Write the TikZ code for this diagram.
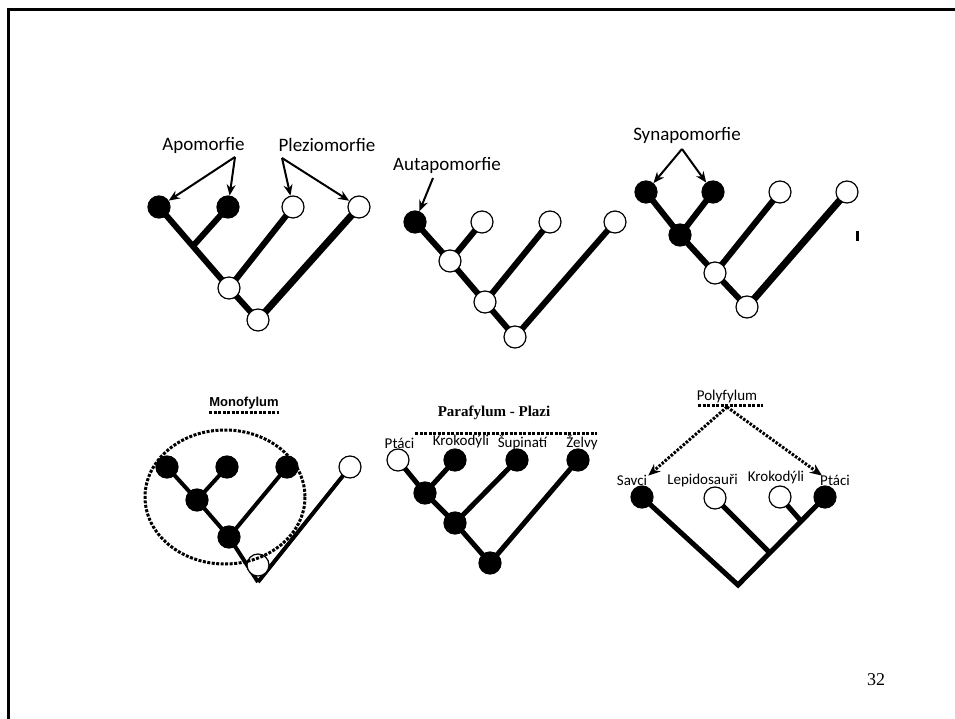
\documentclass[tikz,border=0pt]{standalone}
\usepackage{fontspec}
\setmainfont{Carlito}
\newfontfamily\serfont{Liberation Serif}
\newfontfamily\arfont{Liberation Sans}
\usetikzlibrary{arrows.meta,backgrounds}
\begin{document}
\begin{tikzpicture}[x=1pt,y=-1pt,
  fnode/.style={circle,draw,line width=1.2pt,fill=black,minimum size=22pt,inner sep=0pt},
  onode/.style={circle,draw,line width=1.2pt,fill=white,minimum size=22pt,inner sep=0pt},
  brA/.style={line width=6pt},
  brB/.style={line width=4pt},
  brC/.style={line width=5pt},
  pointer/.style={line width=2pt,-{Stealth[length=11pt,width=9pt]}},
  dotline/.style={line width=3pt,dash pattern=on 3pt off 1.5pt},
  dotarrow/.style={line width=3pt,dash pattern=on 2.5pt off 1.5pt,-{Stealth[length=12pt,width=10pt]}},
  bigl/.style={inner sep=0pt,font=\fontsize{19}{21}\selectfont},
  smalll/.style={inner sep=0pt,font=\fontsize{15}{17}\selectfont}]
\useasboundingbox (0,0) rectangle (955,719);
\draw[line width=3pt] (8,719) -- (8,9.5) -- (955,9.5);

% ---------- panel 1 ----------
\node[bigl] (tapo) at (203.5,145) {Apomorfie};
\node[bigl] (tple) at (327,145) {Pleziomorfie};
\coordinate (sapo) at (235,157);
\coordinate (sple) at (282,158);
\node[fnode] (a1) at (159,207) {};
\node[fnode] (a2) at (228,207) {};
\node[onode] (p1) at (293,207) {};
\node[onode] (p2) at (359,207) {};
\coordinate (ja) at (193,246);
\node[onode] (n1) at (229,288) {};
\node[onode] (n2) at (258,320) {};
\begin{pgfonlayer}{background}
\draw[brA] (a1.center) -- (n1.center);
\draw[brA] (a2.center) -- (ja);
\draw[brA] (p1.center) -- (n1.center);
\draw[brA] (n1.center) -- (n2.center);
\draw[line width=7pt] (p2.center) -- (n2.center);
\end{pgfonlayer}
\draw[pointer] (sapo) -- (a1);
\draw[pointer] (sapo) -- (a2);
\draw[pointer] (sple) -- (p1);
\draw[pointer] (sple) -- (p2);

% ---------- panel 2 ----------
\node[bigl] (taut) at (447,165) {Autapomorfie};
\coordinate (saut) at (433,178);
\node[fnode] (f1) at (415,222) {};
\node[onode] (o1) at (482,222) {};
\node[onode] (o2) at (550,222) {};
\node[onode] (o3) at (615,222) {};
\node[onode] (i1) at (450,261) {};
\node[onode] (i2) at (485,302) {};
\node[onode] (i3) at (515,337) {};
\begin{pgfonlayer}{background}
\draw[brA] (f1.center) -- (i1.center);
\draw[brA] (o1.center) -- (i1.center);
\draw[brA] (i1.center) -- (i2.center);
\draw[brA] (o2.center) -- (i2.center);
\draw[brA] (i2.center) -- (i3.center);
\draw[brA] (o3.center) -- (i3.center);
\end{pgfonlayer}
\draw[pointer] (saut) -- (f1);

% ---------- panel 3 ----------
\node[bigl] (tsyn) at (687,135) {Synapomorfie};
\coordinate (ssyn) at (682,149);
\node[fnode] (s1) at (646,192) {};
\node[fnode] (s2) at (713,192) {};
\node[fnode] (s3) at (680,235) {};
\node[onode] (q1) at (780,192) {};
\node[onode] (q2) at (847,192) {};
\node[onode] (k1) at (715,273) {};
\node[onode] (k2) at (747,307) {};
\begin{pgfonlayer}{background}
\draw[brA] (s1.center) -- (s3.center);
\draw[brA] (s2.center) -- (s3.center);
\draw[brA] (s3.center) -- (k1.center);
\draw[brA] (q1.center) -- (k1.center);
\draw[brA] (k1.center) -- (k2.center);
\draw[line width=7pt] (q2.center) -- (k2.center);
\end{pgfonlayer}
\draw[pointer] (ssyn) -- (s1);
\draw[pointer] (ssyn) -- (s2);
\fill (856,231) rectangle (859,241);

% ---------- panel 4 : Monofylum ----------
\node[inner sep=0pt,font=\arfont\bfseries\fontsize{13}{15}\selectfont] (tmono) at (244,403) {Monofylum};
\draw[dotline] (tmono.south west |- 0,412) -- (tmono.south east |- 0,412);
\node[fnode] (m1) at (167,467) {};
\node[fnode] (m2) at (227,467) {};
\node[fnode] (m3) at (287,467) {};
\node[fnode] (m4) at (197,500) {};
\node[fnode] (m5) at (229,537) {};
\node[onode] (mo) at (350,467) {};
\coordinate (mv) at (258,582);
\node[onode] (mr) at (258,565) {};
\begin{pgfonlayer}{background}
\draw[brB] (m1.center) -- (m4.center) -- (m5.center) -- (mv);
\draw[brB] (m2.center) -- (m4.center);
\draw[brB] (m3.center) -- (m5.center);
\draw[brB] (mo.center) -- (mv);
\end{pgfonlayer}
\draw[dotline] (225,497) ellipse [x radius=80, y radius=67];

% ---------- panel 5 : Parafylum ----------
\node[inner sep=0pt,font=\serfont\bfseries\fontsize{15}{17}\selectfont] (tpara) at (494,413) {Parafylum - Plazi};
\coordinate (pd1) at (415,433);
\coordinate (pd2) at (597,433);
\draw[dotline] (pd1) -- (pd2);
\node[smalll] (lpt) at (399.5,443) {Ptáci};
\node[smalll] (lkr) at (461,441) {Krokodýli};
\node[smalll] (lsu) at (522.5,443) {Šupinatí};
\node[smalll] (lze) at (582,443) {Želvy};
\node[onode] (r1) at (398,460) {};
\node[fnode] (r2) at (455,460) {};
\node[fnode] (r3) at (517,460) {};
\node[fnode] (r4) at (578,460) {};
\node[fnode] (r5) at (425,493) {};
\node[fnode] (r6) at (455,523) {};
\node[fnode] (r7) at (490,563) {};
\begin{pgfonlayer}{background}
\draw[brC] (r1.center) -- (r5.center);
\draw[brC] (r2.center) -- (r5.center);
\draw[brC] (r5.center) -- (r6.center);
\draw[brC] (r3.center) -- (r6.center);
\draw[brC] (r6.center) -- (r7.center);
\draw[brC] (r4.center) -- (r7.center);
\end{pgfonlayer}

% ---------- panel 6 : Polyfylum ----------
\node[inner sep=0pt,font=\fontsize{15}{17}\selectfont] (tpoly) at (727,396) {Polyfylum};
\coordinate (yd1) at (698,405);
\coordinate (yd2) at (763,405);
\draw[dotline] (yd1) -- (yd2);
\coordinate (ysrc) at (727,407);
\node[smalll] (lsa) at (632,480) {Savci};
\node[smalll] (lle) at (702.5,480) {Lepidosauři};
\node[smalll] (lkk) at (776,477) {Krokodýli};
\node[smalll] (lpp) at (835,480) {Ptáci};
\node[fnode] (y1) at (642,497) {};
\node[onode] (y2) at (715,498) {};
\node[onode] (y3) at (780,497) {};
\node[fnode] (y4) at (825,497) {};
\coordinate (yroot) at (738,585);
\coordinate (yj1) at (770,553);
\coordinate (yj2) at (801,521);
\begin{pgfonlayer}{background}
\draw[brC] (y1.center) -- (yroot) -- (y4.center);
\draw[brC] (y2.center) -- (yj1);
\draw[brC] (y3.center) -- (yj2);
\end{pgfonlayer}
\draw[dotarrow] (ysrc) -- ([xshift=1pt,yshift=-1pt]lsa.north east);
\draw[dotarrow] (ysrc) -- ([xshift=2pt,yshift=-1pt]lpp.north west);

% page number
\node[inner sep=0pt,font=\serfont\fontsize{18}{20}\selectfont] (pnum) at (876,680) {32};
\end{tikzpicture}
\end{document}
